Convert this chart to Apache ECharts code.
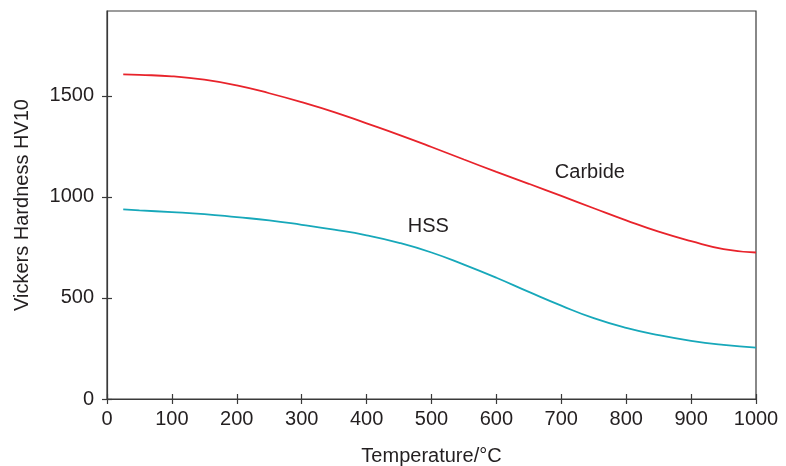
<!DOCTYPE html>
<html>
<head>
<meta charset="utf-8">
<script src="https://cdn.jsdelivr.net/npm/echarts@6/dist/echarts.min.js"></script>
<style>
  html, body { margin: 0; padding: 0; background: #fff; }
  #chart { width: 786px; height: 466px; }
</style>
</head>
<body>
<div id="chart"></div>
<script>
// Hardness versus temperature for two tool materials
const temperatures = [25, 50, 100, 150, 200, 250, 300, 350, 400, 450, 500,
                      550, 600, 650, 700, 750, 800, 850, 900, 950, 1000];
const carbideHV = [1606, 1604, 1597, 1580, 1552, 1513, 1469, 1420, 1364, 1307, 1247,
                   1185, 1124, 1065, 1005, 944, 884, 828, 781, 742, 725];
const hssHV = [938, 933, 925, 915, 900, 884, 862, 838, 810, 773, 725,
               665, 600, 530, 462, 400, 352, 316, 288, 268, 254];

const xTicks = [0, 100, 200, 300, 400, 500, 600, 700, 800, 900, 1000];
const yTicks = [0, 500, 1000, 1500];

// where each curve's name sits, in data units [temperature, hardness]
const carbideLabelAt = [744, 1121];
const hssLabelAt = [495, 856];

const FONT = 'Liberation Sans, Arial, Helvetica, sans-serif';
const TEXT = '#231f20';
const AXIS = '#3a3a3a';
const RED = '#e8232b';
const CYAN = '#17a8ba';

const pair = (xs, ys) => xs.map((x, i) => [x, ys[i]]);
const plain = v => String(v);

const chart = echarts.init(document.getElementById('chart'), null, { renderer: 'canvas' });

function xAxisDef(inside, primary) {
  return {
    type: 'value', min: 0, max: 1000, position: 'bottom',
    name: primary ? 'Temperature/°C' : '',
    nameLocation: 'middle', nameGap: 47,
    nameTextStyle: { fontFamily: FONT, fontSize: 20, color: TEXT },
    axisLine: { show: primary, lineStyle: { color: AXIS, width: 1.2 } },
    axisTick: { show: true, inside: inside, length: 5, customValues: xTicks, lineStyle: { color: AXIS, width: 1.2 } },
    axisLabel: { show: primary, customValues: xTicks, formatter: plain, margin: 10, fontFamily: FONT, fontSize: 20, color: TEXT },
    splitLine: { show: false }
  };
}
function yAxisDef(inside, primary) {
  return {
    type: 'value', min: 0, max: 1920, position: 'left',
    name: primary ? 'Vickers Hardness HV10' : '',
    nameLocation: 'middle', nameGap: 75,
    nameTextStyle: { fontFamily: FONT, fontSize: 20, color: TEXT },
    axisLine: { show: primary, lineStyle: { color: AXIS, width: 1.2 } },
    axisTick: { show: true, inside: inside, length: 5, customValues: yTicks, lineStyle: { color: AXIS, width: 1.2 } },
    axisLabel: { show: primary, customValues: yTicks, formatter: plain, margin: 13, fontFamily: FONT, fontSize: 20, color: TEXT },
    splitLine: { show: false }
  };
}

function nameMark(text, at) {
  return {
    symbol: 'circle', symbolSize: 0, silent: true,
    label: { show: true, position: 'inside', formatter: text, fontFamily: FONT, fontSize: 20, color: TEXT },
    data: [{ coord: at }]
  };
}

chart.setOption({
  animation: false,
  backgroundColor: '#ffffff',
  grid: {
    left: 107, right: 30, top: 11, bottom: 67,
    outerBoundsMode: 'none', containLabel: false,
    show: true, borderColor: AXIS, borderWidth: 1.2, backgroundColor: 'transparent'
  },
  xAxis: [xAxisDef(false, true), xAxisDef(true, false)],
  yAxis: [yAxisDef(false, true), yAxisDef(true, false)],
  series: [
    {
      name: 'Carbide', type: 'line', smooth: 0.5, showSymbol: false,
      xAxisIndex: 0, yAxisIndex: 0,
      lineStyle: { color: RED, width: 1.8 },
      data: pair(temperatures, carbideHV),
      markPoint: nameMark('Carbide', carbideLabelAt)
    },
    {
      name: 'HSS', type: 'line', smooth: 0.5, showSymbol: false,
      xAxisIndex: 0, yAxisIndex: 0,
      lineStyle: { color: CYAN, width: 1.8 },
      data: pair(temperatures, hssHV),
      markPoint: nameMark('HSS', hssLabelAt)
    }
  ]
});
</script>
</body>
</html>
